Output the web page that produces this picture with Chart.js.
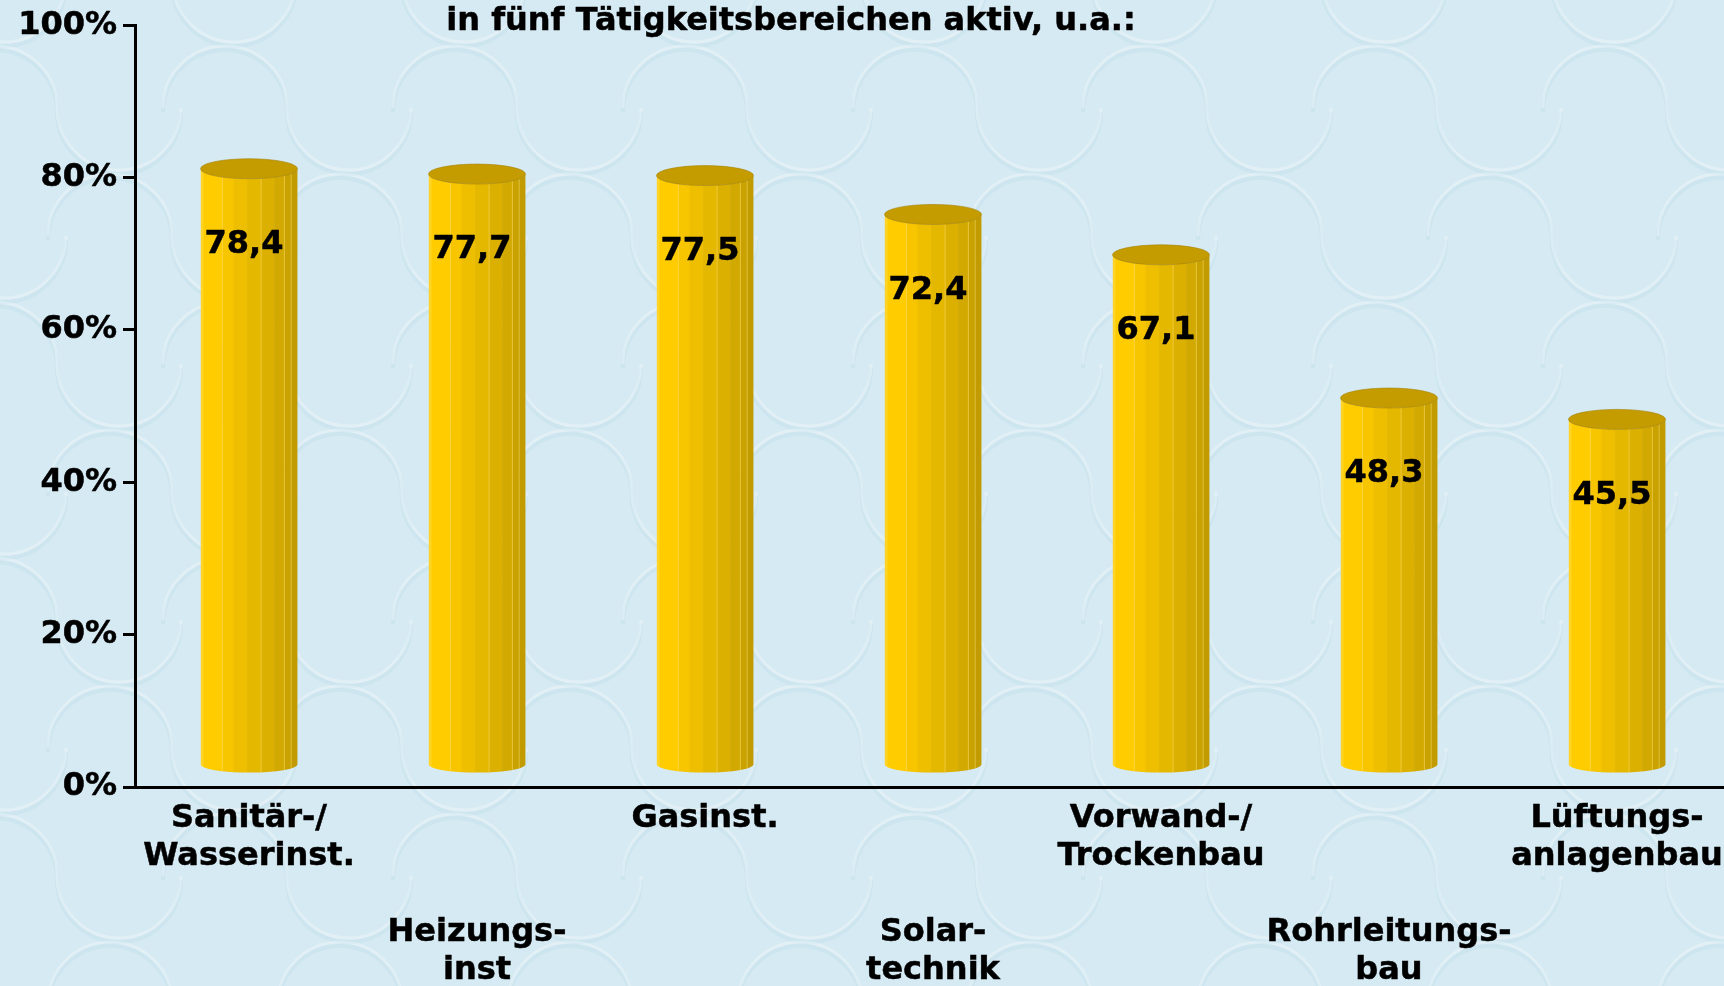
<!DOCTYPE html>
<html><head><meta charset="utf-8">
<script src="https://cdn.jsdelivr.net/npm/chart.js@4.4.1/dist/chart.umd.min.js"></script>
<style>
html,body{margin:0;padding:0;overflow:hidden;background:#D6EAF3;}
canvas{display:block;}
</style></head><body>
<canvas id="c" width="1731" height="986"></canvas>
<script>
const chartTitle = 'in fünf Tätigkeitsbereichen aktiv, u.a.:';
const categories = [
  ['Sanitär-/', 'Wasserinst.'],
  ['Heizungs-', 'inst'],
  ['Gasinst.'],
  ['Solar-', 'technik'],
  ['Vorwand-/', 'Trockenbau'],
  ['Rohrleitungs-', 'bau'],
  ['Lüftungs-', 'anlagenbau']
];
const values = [78.4, 77.7, 77.5, 72.4, 67.1, 48.3, 45.5];
const valueLabels = ['78,4', '77,7', '77,5', '72,4', '67,1', '48,3', '45,5'];
const yTickValues = [0, 20, 40, 60, 80, 100];
const yTickLabels = ['0%', '20%', '40%', '60%', '80%', '100%'];

const FONT = "'DejaVu Sans', Verdana, sans-serif";
const TEXT_STROKE = 0.5;
// staggered category labels: odd ones go to a lower row
const xLabels = categories.map((c, i) => (i % 2 ? ['', '', ''].concat(c) : c));

const stripes = [
  [0.00, '#FFD426'], [0.03, '#FFCC00'], [0.22, '#F7C600'], [0.34, '#EEBF00'],
  [0.48, '#E5B800'], [0.62, '#DCB000'], [0.76, '#D2A900'], [0.86, '#C9A200'], [0.93, '#C19B00']
];

function drawCylinder(ctx, cx, w, yTop, yBot, ryTop, ryBot) {
  const l = cx - w / 2, r = cx + w / 2, rx = w / 2;
  ctx.save();
  ctx.beginPath();
  ctx.moveTo(l, yTop);
  ctx.lineTo(l, yBot);
  ctx.ellipse(cx, yBot, rx, ryBot, 0, Math.PI, 0, true);
  ctx.lineTo(r, yTop);
  ctx.ellipse(cx, yTop, rx, ryTop, 0, 0, Math.PI, false);
  ctx.closePath();
  ctx.clip();
  for (let k = 0; k < stripes.length; k++) {
    const f0 = stripes[k][0], f1 = k + 1 < stripes.length ? stripes[k + 1][0] : 1;
    ctx.fillStyle = stripes[k][1];
    ctx.fillRect(l + f0 * w, yTop - ryTop - 2, (f1 - f0) * w + 0.5, yBot - yTop + ryTop + ryBot + 4);
  }
  ctx.strokeStyle = 'rgba(255,225,110,0.55)';
  ctx.lineWidth = 1;
  [0.22, 0.62, 0.86, 0.93].forEach(f => {
    ctx.beginPath(); ctx.moveTo(l + f * w + 0.5, yTop); ctx.lineTo(l + f * w + 0.5, yBot + ryBot); ctx.stroke();
  });
  ctx.restore();
  // top face
  ctx.save();
  ctx.beginPath();
  ctx.ellipse(cx, yTop, rx, ryTop, 0, 0, Math.PI * 2);
  ctx.fillStyle = '#C49C00';
  ctx.fill();
  ctx.lineWidth = 1;
  ctx.strokeStyle = 'rgba(165,128,0,0.6)';
  ctx.stroke();
  ctx.restore();
}

function boldText(ctx, txt, x, y) {
  ctx.lineWidth = TEXT_STROKE;
  ctx.strokeStyle = '#000';
  ctx.lineJoin = 'round';
  ctx.strokeText(txt, x, y);
  ctx.fillText(txt, x, y);
}

const bgPlugin = {
  id: 'bg',
  beforeDraw(chart) {
    const ctx = chart.ctx;
    ctx.save();
    ctx.fillStyle = '#D6EAF3';
    ctx.fillRect(0, 0, chart.width, chart.height);
    for (let j = 0; j < 9; j++) {
      const y0 = -20 + j * 128;
      for (let i = 0; i < 10; i++) {
        const x0 = -120 + i * 230 + (j % 2) * 115;
        const path = () => {
          ctx.beginPath();
          ctx.arc(x0, y0, 62, Math.PI, Math.PI * 2);
          ctx.arc(x0 + 124, y0, 62, Math.PI, 0, true);
        };
        ctx.lineWidth = 4;
        ctx.strokeStyle = 'rgba(150,195,220,0.14)';
        ctx.save(); ctx.translate(0, 4); path(); ctx.stroke(); ctx.restore();
        ctx.strokeStyle = 'rgba(255,255,255,0.3)';
        ctx.lineWidth = 3;
        path(); ctx.stroke();
      }
    }
    ctx.restore();
  }
};

const cylPlugin = {
  id: 'cyl',
  afterDatasetsDraw(chart) {
    const ctx = chart.ctx;
    const meta = chart.getDatasetMeta(0);
    const depth = 21;
    meta.data.forEach((el, i) => {
      const p = el.getProps(['x', 'y', 'base', 'width'], true);
      drawCylinder(ctx, p.x, p.width, p.y - depth, p.base - depth, 10, 8);
    });
    ctx.save();
    ctx.fillStyle = '#000';
    ctx.font = 'bold 32px ' + FONT;
    ctx.textAlign = 'center';
    ctx.textBaseline = 'middle';
    meta.data.forEach((el, i) => {
      const p = el.getProps(['x', 'y'], true);
      boldText(ctx, valueLabels[i], p.x - 5, p.y + 55);
    });
    ctx.restore();
  },
  afterDraw(chart) {
    const ctx = chart.ctx;
    ctx.save();
    ctx.fillStyle = '#000';
    ctx.font = 'bold 32px ' + FONT;
    ctx.textAlign = 'center';
    ctx.textBaseline = 'middle';
    boldText(ctx, chartTitle, 791, 22);
    ctx.restore();
  }
};

new Chart(document.getElementById('c'), {
  type: 'bar',
  data: {
    labels: xLabels,
    datasets: [{
      data: values,
      backgroundColor: 'rgba(0,0,0,0)',
      borderWidth: 0,
      barPercentage: 0.425,
      categoryPercentage: 1.0
    }]
  },
  options: {
    responsive: false,
    animation: false,
    devicePixelRatio: 1,
    layout: { padding: { top: 20, left: 0, right: 0, bottom: 0 } },
    plugins: { legend: { display: false }, tooltip: { enabled: false }, title: { display: false } },
    scales: {
      x: {
        offset: true,
        grid: { display: false, drawTicks: false, tickLength: 0 },
        border: { display: true, color: '#000', width: 3 },
        ticks: {
          autoSkip: false, maxRotation: 0, minRotation: 0, padding: 13,
          color: '#000', textStrokeColor: '#000', textStrokeWidth: TEXT_STROKE,
          font: { family: FONT, size: 32, weight: 'bold', lineHeight: 38 / 32 }
        },
        afterFit(scale) { scale.height = 199; scale.paddingLeft = 0; scale.paddingRight = 0; }
      },
      y: {
        min: 0, max: 100,
        grid: { drawOnChartArea: false, drawTicks: true, tickLength: 12, color: '#000', lineWidth: 3 },
        border: { display: true, color: '#000', width: 3 },
        ticks: {
          stepSize: 20, padding: 6, color: '#000', textStrokeColor: '#000', textStrokeWidth: TEXT_STROKE,
          font: { family: FONT, size: 32, weight: 'bold' },
          callback: (v) => { const i = yTickValues.indexOf(v); return i >= 0 ? yTickLabels[i] : ''; }
        },
        afterFit(scale) { scale.width = 135; }
      }
    }
  },
  plugins: [bgPlugin, cylPlugin]
});
</script>
</body></html>
